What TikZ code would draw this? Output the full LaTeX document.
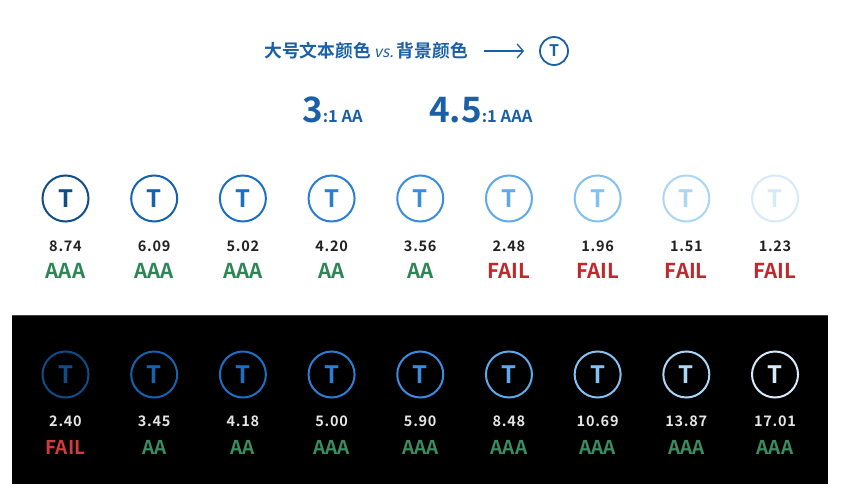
\documentclass[tikz,border=0pt]{standalone}
\usepackage{fontspec}
\setmainfont{Noto Sans CJK SC}[BoldFont={Noto Sans CJK SC Bold}, ItalicFont={Noto Sans CJK SC}, ItalicFeatures={FakeSlant=0.2}]
\usetikzlibrary{arrows.meta}
\definecolor{c1}{HTML}{0E4C8A}
\definecolor{c2}{HTML}{1662AE}
\definecolor{c3}{HTML}{1A70C4}
\definecolor{c4}{HTML}{2A7ED4}
\definecolor{c5}{HTML}{3A8CE0}
\definecolor{c6}{HTML}{5CA9EC}
\definecolor{c7}{HTML}{82C1F2}
\definecolor{c8}{HTML}{ACD6F5}
\definecolor{c9}{HTML}{D6EAF9}
\definecolor{titleblue}{HTML}{1B5FA5}
\definecolor{okA}{HTML}{2E8555}
\definecolor{badA}{HTML}{C0282E}
\definecolor{okB}{HTML}{3A8E60}
\definecolor{badB}{HTML}{D63A3F}
\definecolor{numA}{HTML}{222222}
\definecolor{numB}{HTML}{E4E4E4}
\begin{document}
\begin{tikzpicture}[x=1pt,y=-1pt,
  ring/.style={circle, draw=#1, line width=2pt, minimum size=46pt, inner sep=0pt, text=#1,
    font=\bfseries\fontsize{24}{24}\selectfont},
  numlab/.style={anchor=base, inner sep=0pt, font=\bfseries\fontsize{14.5}{14.5}\selectfont\addfontfeature{LetterSpace=5}},
  gradeA/.style={anchor=base, inner sep=0pt, font=\bfseries\fontsize{20.5}{20.5}\selectfont},
  gradeB/.style={anchor=base, inner sep=0pt, font=\bfseries\fontsize{19}{19}\selectfont}]
\useasboundingbox (0,0) rectangle (841,489);
\fill[white] (0,0) rectangle (841,489);
% title
\node[anchor=west, inner sep=0pt, text=titleblue, font=\bfseries\fontsize{17.8}{17.8}\selectfont] (title) at (264,51)
  {大号文本颜色\hspace{3pt}{\mdseries\itshape\fontsize{15.5}{15.5}\selectfont vs.}\hspace{3pt}背景颜色};
\node[circle, draw=titleblue, line width=1.8pt, minimum size=28pt, inner sep=0pt, text=titleblue,
  font=\bfseries\fontsize{16}{16}\selectfont] (tc) at (554,51) {T};
\coordinate (arrS) at (484,51);
\coordinate (arrE) at (524,51);
\draw[titleblue, line width=1.3pt, -{Straight Barb[length=6pt,width=14pt,line width=1.3pt]}] (arrS) -- (arrE);
% ratios
\node[anchor=base west, inner sep=0pt, text=titleblue, font=\bfseries] (r1) at (302,123)
  {\fontsize{35}{35}\selectfont 3\fontsize{16.5}{16.5}\selectfont:1 AA};
\node[anchor=base west, inner sep=0pt, text=titleblue, font=\bfseries] (r2) at (429,123)
  {\fontsize{35}{35}\selectfont 4.5\fontsize{16.5}{16.5}\selectfont:1 AAA};
% dark panel
\fill[black] (12,315) rectangle (828,484);
\draw[black!75, line width=1.5pt] (12,315.5) -- (828,315.5);
% rows
\foreach \i/\c/\na/\ga/\gca/\nb/\gb/\gcb in {
  1/c1/8.74/AAA/okA/2.40/FAIL/badB,
  2/c2/6.09/AAA/okA/3.45/AA/okB,
  3/c3/5.02/AAA/okA/4.18/AA/okB,
  4/c4/4.20/AA/okA/5.00/AAA/okB,
  5/c5/3.56/AA/okA/5.90/AAA/okB,
  6/c6/2.48/FAIL/badA/8.48/AAA/okB,
  7/c7/1.96/FAIL/badA/10.69/AAA/okB,
  8/c8/1.51/FAIL/badA/13.87/AAA/okB,
  9/c9/1.23/FAIL/badA/17.01/AAA/okB}{
  \pgfmathsetmacro{\xx}{65.5+88.69*(\i-1)}
  \node[ring=\c] (ta\i) at (\xx,198.5) {T};
  \node[numlab, text=numA] (na\i) at (\xx,252) {\na};
  \node[gradeA, text=\gca] (ga\i) at (\xx,279) {\ga};
  \node[ring=\c] (tb\i) at (\xx,374.5) {T};
  \node[numlab, text=numB] (nb\i) at (\xx,426) {\nb};
  \node[gradeB, text=\gcb] (gb\i) at (\xx,454) {\gb};
}
\end{tikzpicture}
\end{document}
